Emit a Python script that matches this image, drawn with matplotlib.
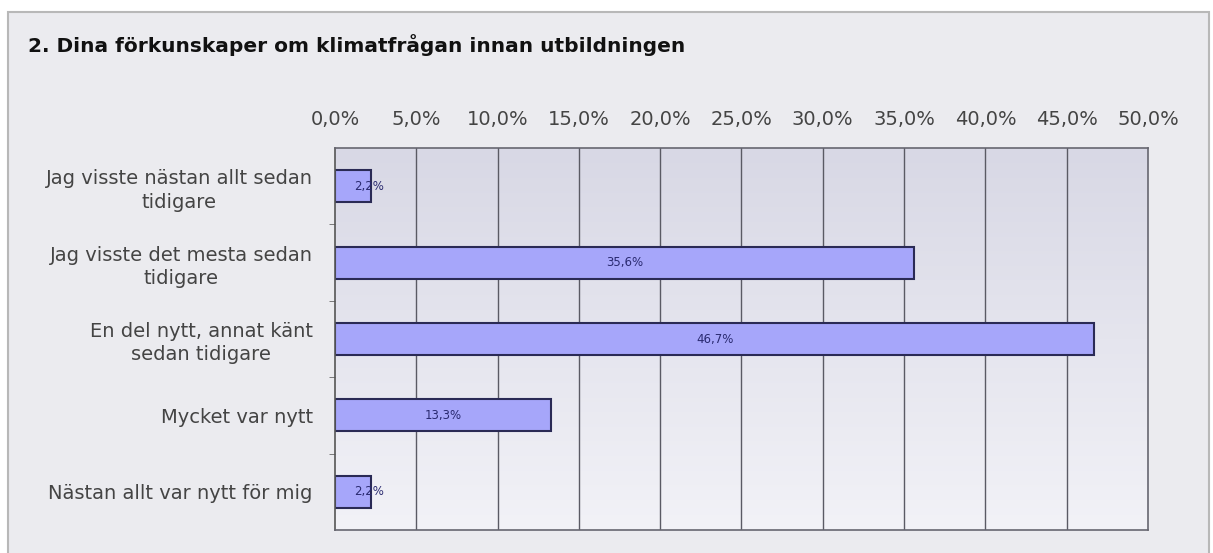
import matplotlib
matplotlib.use("Agg")
import matplotlib.pyplot as plt
import numpy as np
from matplotlib.patches import Rectangle
from matplotlib.colors import LinearSegmentedColormap

title = "2. Dina förkunskaper om klimatfrågan innan utbildningen"
categories = [
    "Jag visste nästan allt sedan\ntidigare",
    "Jag visste det mesta sedan\ntidigare",
    "En del nytt, annat känt\nsedan tidigare",
    "Mycket var nytt",
    "Nästan allt var nytt för mig",
]
values = [2.2, 35.6, 46.7, 13.3, 2.2]
value_labels = ["2,2%", "35,6%", "46,7%", "13,3%", "2,2%"]
xticks = [0, 5, 10, 15, 20, 25, 30, 35, 40, 45, 50]
xtick_labels = ["0,0%", "5,0%", "10,0%", "15,0%", "20,0%", "25,0%", "30,0%",
                "35,0%", "40,0%", "45,0%", "50,0%"]

W, H = 1213, 553
fig = plt.figure(figsize=(W / 100, H / 100), dpi=100)
fig.patch.set_facecolor("white")

# outer panel
panel = Rectangle((8 / W, -0.01), 1201 / W, (H - 12) / H + 0.01,
                  transform=fig.transFigure, facecolor="#ebebef",
                  edgecolor="#b8b8b8", linewidth=1.5, zorder=-5)
fig.patches.append(panel)

fig.text(28 / W, 1 - 45 / H, title, fontsize=14.5, fontweight="bold",
         color="#111111", va="center", ha="left")

ax = fig.add_axes([335 / W, 1 - 530 / H, (1148 - 335) / W, (530 - 148) / H])
ax.set_zorder(1)
n = len(categories)
ax.set_xlim(0, 50)
ax.set_ylim(n - 0.5, -0.5)

# gradient background
grad = np.linspace(0, 1, 256).reshape(-1, 1)
cmap = LinearSegmentedColormap.from_list("bg", ["#d8d8e5", "#f2f2f7"])
ax.imshow(grad, cmap=cmap, aspect="auto", extent=[0, 50, n - 0.5, -0.5],
          zorder=0, interpolation="bilinear")

for x in xticks[1:-1]:
    ax.axvline(x, color="#5a5a64", linewidth=1.0, zorder=1)

ypos = np.arange(n)
ax.barh(ypos, values, height=0.42, color="#a6a6fa", edgecolor="#2a2a55",
        linewidth=1.5, zorder=2)
for y, v, lab in zip(ypos, values, value_labels):
    ax.text(v / 2 if v > 5 else 2.1, y, lab, ha="center", va="center",
            fontsize=8.5, color="#2a2a70", zorder=3)

ax.xaxis.tick_top()
ax.set_xticks(xticks)
ax.set_xticklabels(xtick_labels, fontsize=14, color="#444444")
ax.tick_params(axis="x", length=0, pad=14)
ax.set_yticks(ypos)
ax.set_yticklabels(categories, fontsize=14, color="#444444",
                   multialignment="center", linespacing=1.3)
ax.tick_params(axis="y", length=0, pad=16)
ax.set_yticks(np.arange(n - 1) + 0.5, minor=True)
ax.tick_params(axis="y", which="minor", length=4, color="#666666", direction="out")

for s in ["top", "bottom", "left", "right"]:
    ax.spines[s].set_color("#666670")
    ax.spines[s].set_linewidth(1.2)
ax.spines["left"].set_color("#555555")

fig.savefig("out.png", dpi=100, facecolor=fig.get_facecolor())
